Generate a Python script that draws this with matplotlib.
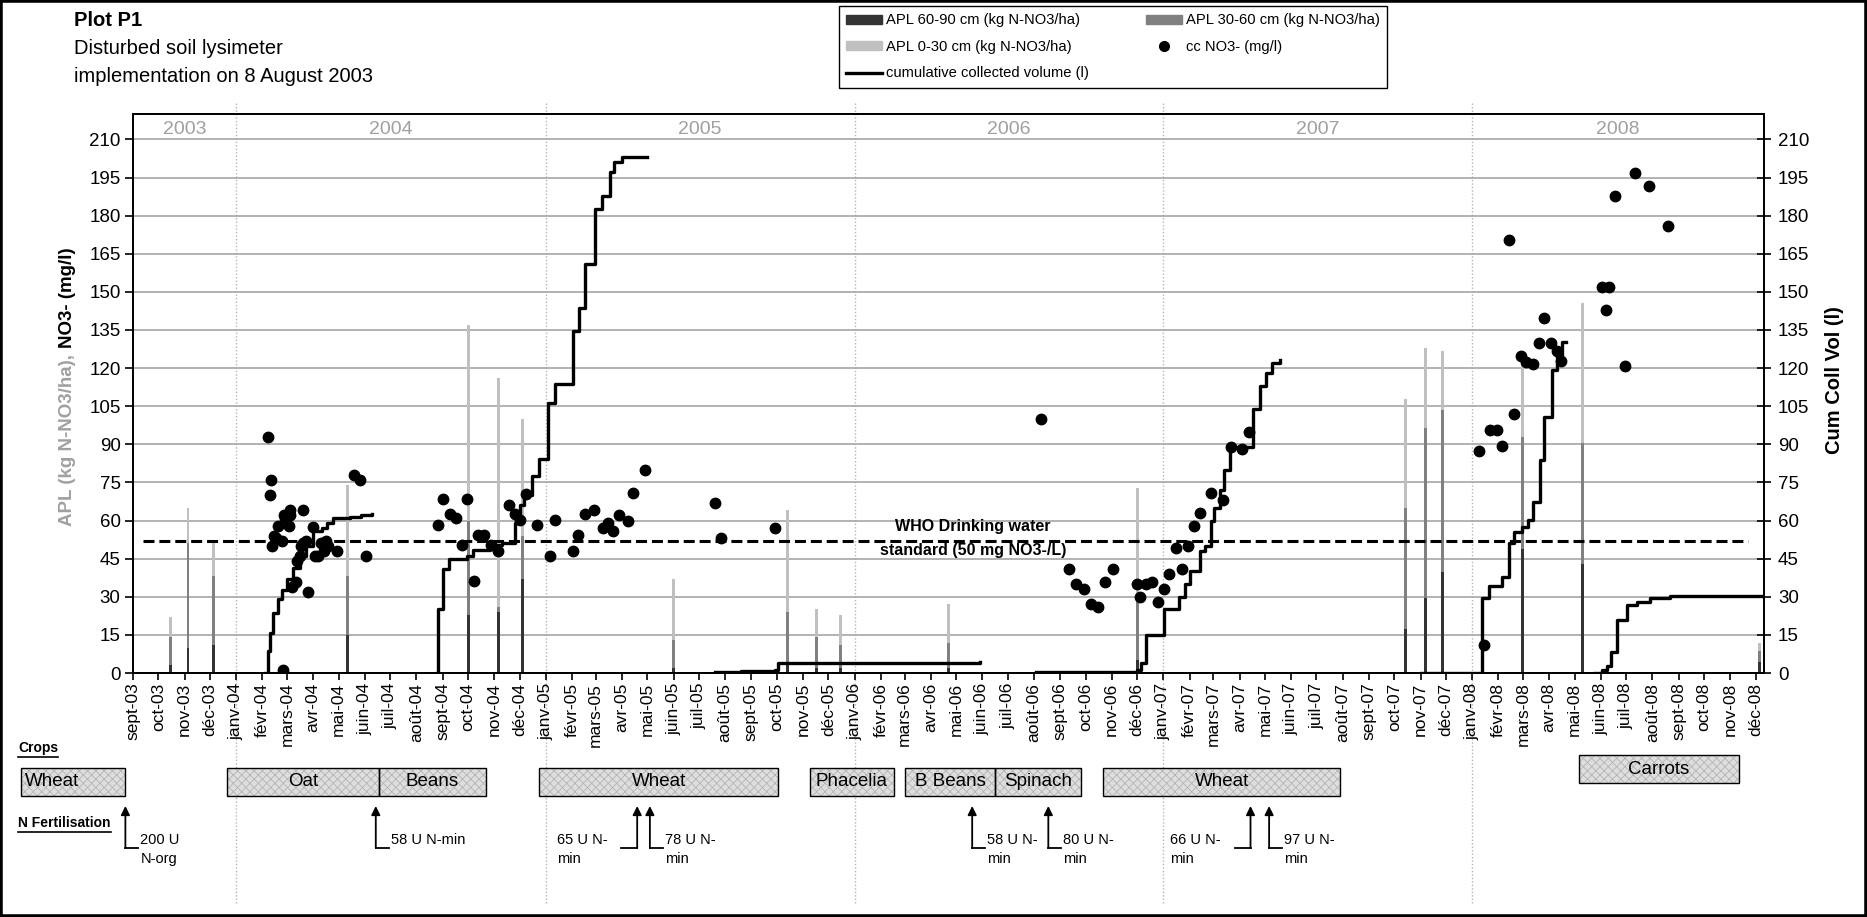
import matplotlib
matplotlib.use("Agg")
import numpy as np
import pandas as pd
import matplotlib.pyplot as plt
import matplotlib.dates as mdates
import matplotlib.transforms as mtransforms
from matplotlib.patches import Rectangle, Patch, FancyArrowPatch
from matplotlib.lines import Line2D

plt.rcParams['font.family'] = ['Liberation Sans', 'DejaVu Sans']
plt.rcParams['hatch.linewidth'] = 0.6

W, H, DPI = 1867, 917, 100

# ---------------- data ----------------
# APL soil profile samples (kg N-NO3/ha), one value per layer
apl_dates = ['2003-10-15', '2003-11-05', '2003-12-05', '2004-05-12', '2004-10-02',
             '2004-11-06', '2004-12-04', '2005-06-01', '2005-10-14', '2005-11-17',
             '2005-12-15', '2006-04-22', '2006-12-01', '2007-10-14', '2007-11-07',
             '2007-11-27', '2008-02-29', '2008-05-11', '2008-12-06']
apl_60_90 = [3, 10, 11, 15, 23, 24, 37, 2, 3, 2, 2, 2, 5, 17.5, 29.5, 39.6, 48.8, 43, 4.4]
apl_30_60 = [11, 41, 27, 23, 37, 2, 17, 11, 21, 12, 9, 10, 23, 47.3, 67.1, 64, 44.1, 47.7, 4.3]
apl_0_30 = [8, 14, 14, 36, 77, 90, 46, 24, 40, 11, 12, 15, 45, 43.2, 31.2, 23.2, 30.5, 55, 3.3]

# NO3- concentration in leachate (mg/l)
no3_dates = ['2004-02-07', '2004-02-11', '2004-02-10', '2004-02-25', '2004-02-12', '2004-02-15',
             '2004-02-24', '2004-02-19', '2004-02-26', '2004-03-04', '2004-03-03', '2004-03-05',
             '2004-02-28', '2004-03-20', '2004-03-07', '2004-03-12', '2004-03-26', '2004-03-13',
             '2004-03-16', '2004-03-20', '2004-03-24', '2004-04-01', '2004-04-03', '2004-04-07',
             '2004-04-14', '2004-04-16', '2004-04-19', '2004-04-29', '2004-05-19', '2004-05-26',
             '2004-06-03', '2004-02-17', '2004-03-18', '2004-04-10',
             '2004-08-27', '2004-09-02', '2004-09-10', '2004-09-17', '2004-09-24', '2004-09-30',
             '2004-10-08', '2004-10-13', '2004-10-20', '2004-10-28', '2004-11-05', '2004-11-19',
             '2004-11-25', '2004-12-01', '2004-12-09', '2004-12-22', '2005-01-06', '2005-01-12',
             '2005-02-02', '2005-02-08', '2005-02-16', '2005-02-27', '2005-03-09', '2005-03-16',
             '2005-03-21', '2005-03-28', '2005-04-08', '2005-04-14', '2005-04-28',
             '2005-07-20', '2005-07-27', '2005-09-29',
             '2006-08-09', '2006-09-12', '2006-09-20', '2006-09-29', '2006-10-08', '2006-10-16',
             '2006-10-24', '2006-11-02', '2006-12-01', '2006-12-04', '2006-12-12', '2006-12-18',
             '2006-12-26', '2007-01-02', '2007-01-08', '2007-01-16', '2007-01-23', '2007-01-30',
             '2007-02-06', '2007-02-13', '2007-02-26', '2007-03-12', '2007-03-22', '2007-04-04',
             '2007-04-12',
             '2008-01-09', '2008-01-15', '2008-01-22', '2008-01-30', '2008-02-05', '2008-02-14',
             '2008-02-19', '2008-02-28', '2008-03-05', '2008-03-13', '2008-03-20', '2008-03-26',
             '2008-04-03', '2008-04-10', '2008-04-15', '2008-06-03', '2008-06-07', '2008-06-11',
             '2008-06-18', '2008-06-30', '2008-07-12', '2008-07-28', '2008-08-20']
no3_values = [93, 76, 70, 1, 50, 54,
              52, 58, 62, 64, 58, 62,
              61, 64, 34, 36, 32, 44,
              46, 51, 52, 57.5, 46, 46,
              48, 52, 50, 48, 78, 76,
              46, 53, 50, 51,
              58.4, 68.3, 62.4, 61, 50.2, 68.3,
              36.1, 54.2, 54.2, 50.2, 48.2, 66.3,
              62.4, 60.4, 70.3, 58.4, 46.2, 60.4,
              48.2, 54.2, 62.4, 64.3, 57, 59,
              56, 62, 60, 71, 80,
              67, 53, 57,
              100, 41, 35, 33, 27, 26,
              36, 41, 35, 30, 35, 36,
              28, 33, 39, 49, 41, 50,
              58, 63, 71, 68, 89, 88,
              95,
              87.3, 10.9, 95.8, 95.8, 89.5, 170.3,
              101.9, 124.9, 122.4, 121.7, 130, 139.9,
              130, 126.8, 122.7, 151.8, 142.8, 151.8,
              187.7, 120.8, 196.9, 191.8, 175.8]

# cumulative collected volume (l), one list per drainage season
vol_2004_dates = ['2004-02-04', '2004-02-07', '2004-02-10', '2004-02-14', '2004-02-19', '2004-02-24',
                  '2004-03-01', '2004-03-08', '2004-03-16', '2004-03-24', '2004-04-01', '2004-04-11',
                  '2004-04-17', '2004-04-25', '2004-05-14', '2004-05-28', '2004-06-10']
vol_2004 = [0, 8.5, 15.8, 23.6, 29.2, 32.8, 36.8, 41.4, 46, 50, 55.8, 57, 59, 61, 61.5, 62, 62.4]

vol_2005_dates = ['2004-08-25', '2004-08-27', '2004-09-01', '2004-09-09', '2004-09-30', '2004-10-07',
                  '2004-10-27', '2004-11-10', '2004-11-26', '2004-12-02', '2004-12-06', '2004-12-16',
                  '2004-12-24', '2005-01-04', '2005-01-12', '2005-02-02', '2005-02-09', '2005-02-16',
                  '2005-02-28', '2005-03-08', '2005-03-18', '2005-03-23', '2005-04-01', '2005-05-01']
vol_2005 = [0, 25, 41, 45, 46, 48.5, 50.5, 51, 59, 66, 70, 77.5,
            84.3, 106.3, 113.6, 134.6, 143.8, 160.9, 182.5, 187.8, 197, 201.2, 202.9, 203.2]

vol_2006_dates = ['2005-07-20', '2005-08-20', '2005-09-29', '2005-10-02', '2006-05-29']
vol_2006 = [0.5, 0.8, 1.2, 4, 4.2]

vol_2007_dates = ['2006-08-03', '2006-11-15', '2006-12-01', '2006-12-05', '2006-12-12', '2007-01-02',
                  '2007-01-19', '2007-01-26', '2007-02-02', '2007-02-13', '2007-02-19', '2007-02-26',
                  '2007-03-02', '2007-03-09', '2007-03-14', '2007-03-21', '2007-04-17', '2007-04-25',
                  '2007-05-02', '2007-05-09', '2007-05-19']
vol_2007 = [0.3, 0.5, 1, 4, 15, 25, 30, 35, 40, 48, 50, 60, 65, 72, 80, 89, 104, 113, 118, 122, 123]

vol_2008a_dates = ['2007-11-02', '2008-01-13', '2008-01-21', '2008-02-05', '2008-02-14', '2008-02-20',
                   '2008-02-29', '2008-03-07', '2008-03-13', '2008-03-21', '2008-03-26', '2008-04-04',
                   '2008-04-10', '2008-04-16', '2008-04-21']
vol_2008a = [0, 29.5, 34.2, 37.8, 51, 55.3, 57.6, 60.1, 67.4, 83.7, 100.9, 119.3, 124.9, 130.4, 130.4]

vol_2008b_dates = ['2008-05-25', '2008-06-02', '2008-06-08', '2008-06-13', '2008-06-20', '2008-07-02',
                   '2008-07-14', '2008-07-29', '2008-08-22', '2008-12-11']
vol_2008b = [0, 1.2, 2.9, 8.2, 20.8, 26.6, 27.8, 29.5, 30.3, 30.3]

who_limit = 52

years = [2003, 2004, 2005, 2006, 2007, 2008]
fr_months = ['janv', 'févr', 'mars', 'avr', 'mai', 'juin',
             'juil', 'août', 'sept', 'oct', 'nov', 'déc']

crop_names = ['Wheat', 'Oat', 'Beans', 'Wheat', 'Phacelia', 'B Beans', 'Spinach', 'Wheat', 'Carrots']
crop_starts = ['2003-04-22', '2003-12-21', '2004-06-18', '2004-12-24', '2005-11-09',
               '2006-03-02', '2006-06-16', '2006-10-22', '2008-05-06']
crop_ends = ['2003-08-23', '2004-06-18', '2004-10-22', '2005-10-03', '2006-02-16',
             '2006-06-16', '2006-09-26', '2007-07-29', '2008-11-11']

fert_dates = ['2003-08-23', '2004-06-14', '2005-04-19', '2005-05-04',
              '2006-05-20', '2006-08-18', '2007-04-14', '2007-05-06']
fert_labels = ['200 U\nN-org', '58 U N-min', '65 U N-\nmin', '78 U N-\nmin',
               '58 U N-\nmin', '80 U N-\nmin', '66 U N-\nmin', '97 U N-\nmin']
fert_side = ['right', 'right', 'left', 'right', 'right', 'right', 'left', 'right']

C_DARK, C_MID, C_LIGHT = '#333333', '#808080', '#c0c0c0'
C_YEAR = '#a0a0a0'


def fx(px):
    return px / W


def fy(py):
    return 1 - py / H


fig = plt.figure(figsize=(W / DPI, H / DPI), dpi=DPI)
L, R, T, B = 133, 1764, 114, 673
ax = fig.add_axes([fx(L), fy(B), fx(R) - fx(L), (B - T) / H])
ax.patch.set_alpha(0)
x0, x1 = pd.Timestamp('2003-09-01'), pd.Timestamp('2008-12-11')

# stacked APL bars
d = pd.to_datetime(apl_dates)
dark = np.array(apl_60_90)
mid = np.array(apl_30_60)
light = np.array(apl_0_30)
ax.bar(d, dark, width=3.5, color=C_DARK, zorder=2)
ax.bar(d, mid, bottom=dark, width=3.5, color=C_MID, zorder=2)
ax.bar(d, light, bottom=dark + mid, width=3.5, color=C_LIGHT, zorder=2)

ax.axhline(who_limit, xmin=0.006, xmax=0.99, color='k', lw=2.2, ls=(0, (3.6, 1.6)), zorder=3)
ax.plot(pd.to_datetime(no3_dates), no3_values, ls='', marker='o', ms=7.5, color='k', zorder=4)

ax.text(pd.Timestamp('2006-05-21'), 57.5, 'WHO Drinking water', ha='center', va='center',
        fontsize=11.5, fontweight='bold', zorder=5)
ax.text(pd.Timestamp('2006-05-21'), 48.3, 'standard (50 mg NO3-/L)', ha='center', va='center',
        fontsize=11.5, fontweight='bold', zorder=5)

ax.set_xlim(x0, x1)
ax.set_ylim(0, 220)
ax.set_yticks(np.arange(0, 211, 15))
ax.grid(axis='y', color='#a6a6a6', lw=1.2)
ax.set_axisbelow(True)

months = pd.date_range('2003-09-01', '2008-12-01', freq='MS')
ax.set_xticks(months)
ax.set_xticklabels([f"{fr_months[m.month - 1]}-{m.year % 100:02d}" for m in months],
                   rotation=90, fontsize=12.5)
ax.tick_params(axis='x', length=5, width=1.2, pad=2)
ax.tick_params(axis='y', length=6, width=1.2, pad=3, labelsize=13.5)

for y in years:
    start = max(pd.Timestamp(year=y, month=1, day=1), x0)
    end = min(pd.Timestamp(year=y + 1, month=1, day=1), x1)
    ax.text(start + (end - start) / 2, 214.0, str(y), ha='center', va='center',
            fontsize=14, color=C_YEAR)

# cumulative volume on the right axis
ax2 = ax.twinx()
segments = [(vol_2004_dates, vol_2004), (vol_2005_dates, vol_2005), (vol_2006_dates, vol_2006),
            (vol_2007_dates, vol_2007), (vol_2008a_dates, vol_2008a), (vol_2008b_dates, vol_2008b)]
for sd, sv in segments:
    ax2.plot(pd.to_datetime(sd), sv, color='k', lw=2.4, drawstyle='steps-post', zorder=5)
ax2.set_ylim(0, 220)
ax2.set_yticks(np.arange(0, 211, 15))
ax2.tick_params(axis='y', direction='inout', length=10, width=1.2, pad=5, labelsize=13.5)
ax.set_xlim(x0, x1)
for a in (ax, ax2):
    for s in a.spines.values():
        s.set_linewidth(1.3)

# year separators (dotted, across the whole figure)
blend = mtransforms.blended_transform_factory(ax.transData, fig.transFigure)
for y in years[1:]:
    xd = mdates.date2num(pd.Timestamp(year=y, month=1, day=1))
    fig.add_artist(Line2D([xd, xd], [fy(103), fy(905)], transform=blend, color='#b5b5b5',
                          lw=1, ls=(0, (1, 1.5)), zorder=-1))

# titles
fig.text(fx(74), fy(21), 'Plot P1', fontsize=14.5, fontweight='bold', va='center')
fig.text(fx(74), fy(49), 'Disturbed soil lysimeter', fontsize=14.5, va='center')
fig.text(fx(74), fy(76), 'implementation on 8 August 2003', fontsize=14.5, va='center')

# two coloured left axis title
renderer = fig.canvas.get_renderer()
t_gray = fig.text(fx(68), 0, 'APL (kg N-NO3/ha),', rotation=90, color=C_YEAR,
                  fontsize=13.5, fontweight='bold', ha='center', va='bottom')
t_black = fig.text(fx(68), 0, 'NO3- (mg/l)', rotation=90, color='k',
                   fontsize=13.5, fontweight='bold', ha='center', va='bottom')
h1 = t_gray.get_window_extent(renderer).height
h2 = t_black.get_window_extent(renderer).height
gap = 6
yc = H - 387
ystart = yc - (h1 + h2 + gap) / 2
t_gray.set_y(ystart / H)
t_black.set_y((ystart + h1 + gap) / H)

fig.text(fx(1834), fy(380), 'Cum Coll Vol (l)', rotation=90, fontsize=14.5,
         fontweight='bold', ha='center', va='center')

# legend
handles = [Patch(color=C_DARK), Patch(color=C_LIGHT), Line2D([], [], color='k', lw=2.4),
           Patch(color=C_MID), Line2D([], [], ls='', marker='o', ms=7, color='k')]
labels = ['APL 60-90 cm (kg N-NO3/ha)', 'APL 0-30 cm (kg N-NO3/ha)',
          'cumulative collected volume (l)', 'APL 30-60 cm (kg N-NO3/ha)', 'cc NO3- (mg/l)']
leg = fig.legend(handles, labels, loc='upper left', bbox_to_anchor=(fx(839), fy(6)), ncol=2,
                 fontsize=10.6, frameon=True, fancybox=False, edgecolor='k', framealpha=1,
                 borderpad=0.5, labelspacing=0.85, handlelength=2.4, handleheight=0.55,
                 handletextpad=0.3, columnspacing=3.9, borderaxespad=0)
leg.get_frame().set_linewidth(1.0)


def date_fx(ds):
    return ax.transData.transform((mdates.date2num(pd.Timestamp(ds)), 0))[0] / W


# crops row
for name, s, e in zip(crop_names, crop_starts, crop_ends):
    xs, xe = date_fx(s), date_fx(e)
    top = 755 if name == 'Carrots' else 768
    y_b, hgt = fy(top + 28), 28 / H
    fig.add_artist(Rectangle((xs, y_b), xe - xs, hgt, transform=fig.transFigure,
                             facecolor='#dedede', edgecolor='#b4b4b4', hatch='xxxx', lw=0, zorder=3))
    fig.add_artist(Rectangle((xs, y_b), xe - xs, hgt, transform=fig.transFigure,
                             facecolor='none', edgecolor='k', lw=1.0, zorder=4))
    if pd.Timestamp(s) < x0:
        fig.text(xs + fx(4), y_b + hgt / 2, name, ha='left', va='center', fontsize=13.5, zorder=5)
    else:
        fig.text((xs + xe) / 2, y_b + hgt / 2, name, ha='center', va='center', fontsize=13.5,
                 zorder=5)

# fertilisation arrows
for ds, lab, side in zip(fert_dates, fert_labels, fert_side):
    xa = date_fx(ds)
    fig.add_artist(FancyArrowPatch((xa, fy(848)), (xa, fy(806)), transform=fig.transFigure,
                                   arrowstyle='-|>', mutation_scale=13, lw=1.3, color='k',
                                   shrinkA=0, shrinkB=0))
    if side == 'right':
        fig.add_artist(Line2D([xa, xa + fx(13)], [fy(848), fy(848)], transform=fig.transFigure,
                              color='k', lw=1.3))
        fig.text(xa + fx(15), fy(833), lab, ha='left', va='top', fontsize=10.5,
                 linespacing=1.45, multialignment='left')
    else:
        fig.add_artist(Line2D([xa, xa - fx(16)], [fy(848), fy(848)], transform=fig.transFigure,
                              color='k', lw=1.3))
        fig.text(xa - fx(30), fy(833), lab, ha='right', va='top', fontsize=10.5,
                 linespacing=1.45, multialignment='left')

# row headers, underlined
for txt, yy in [('Crops', 748), ('N Fertilisation', 823)]:
    t = fig.text(fx(18), fy(yy), txt, fontsize=10, fontweight='bold', va='center')
    bb = t.get_window_extent(renderer)
    fig.add_artist(Line2D([bb.x0 / W, bb.x1 / W], [(bb.y0 - 2) / H] * 2,
                          transform=fig.transFigure, color='k', lw=1.2))

# frame around the whole picture
fig.add_artist(Rectangle((0, 0), 1, 1, transform=fig.transFigure, fill=False,
                         edgecolor='k', lw=4, zorder=10))

fig.savefig('out.png', dpi=DPI)
